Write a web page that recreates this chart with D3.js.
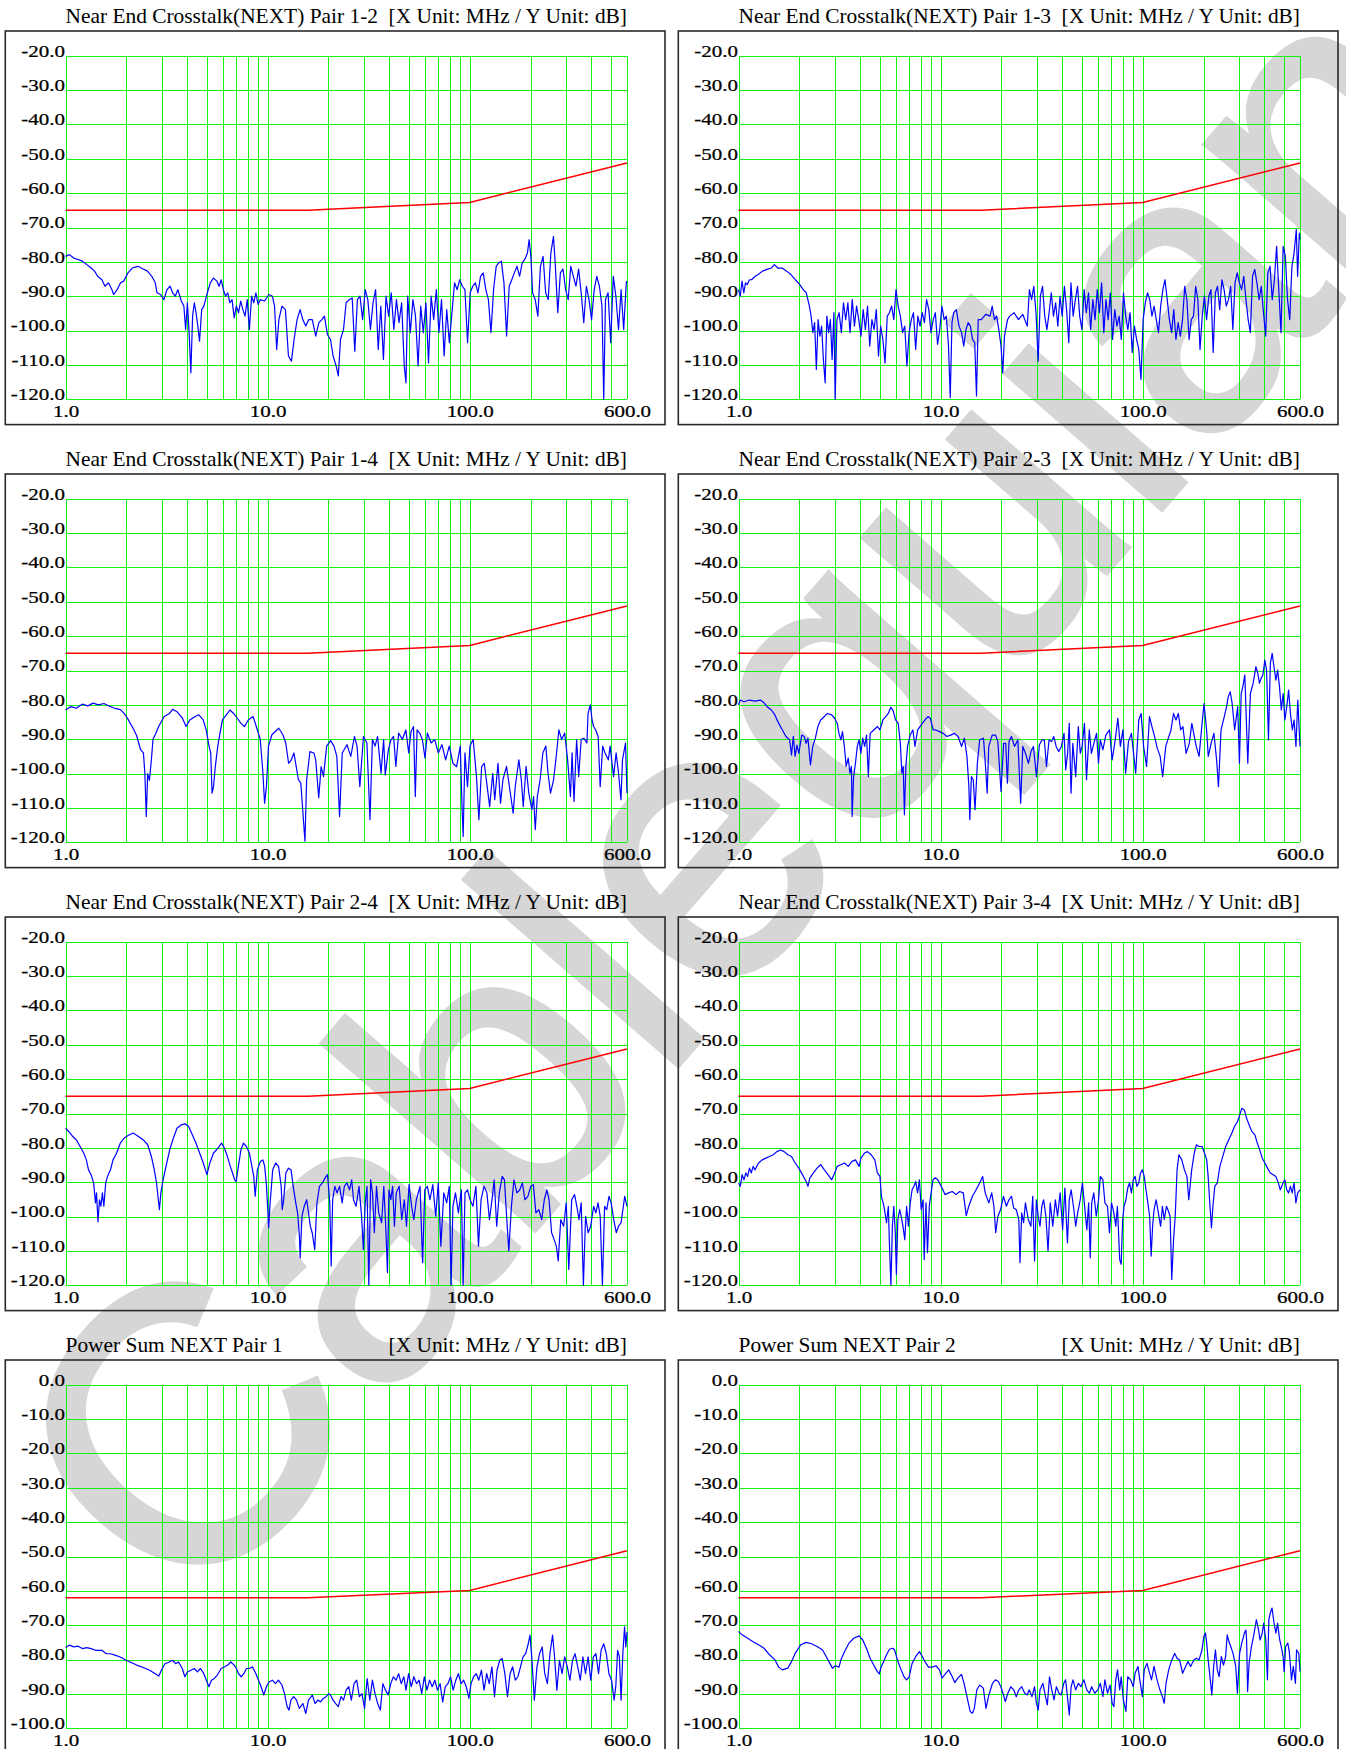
<!DOCTYPE html>
<html>
<head>
<meta charset="utf-8">
<script src="https://cdn.jsdelivr.net/npm/d3@7"></script>
<style>
  body { margin: 0; background: #fff; }
  svg { display: block; }
  text { font-family: "Liberation Serif", "Times New Roman", Times, serif; fill: #000; }
</style>
</head>
<body>
<div id="chart"></div>
<script>
// Axis definitions
const xGridFreqs = [1, 2, 3, 4, 5, 6, 7, 8, 9, 10, 20, 30, 40, 50, 60, 70, 80, 90, 100, 200, 300, 400, 500, 600];
const xTickFreqs = [1, 10, 100, 600];
const yTicksNext = [-20, -30, -40, -50, -60, -70, -80, -90, -100, -110, -120];
const yTicksPsum = [0, -10, -20, -30, -40, -50, -60, -70, -80, -90, -100];

const panelTitles = [
    "Near End Crosstalk(NEXT) Pair 1-2", "Near End Crosstalk(NEXT) Pair 1-3",
    "Near End Crosstalk(NEXT) Pair 1-4", "Near End Crosstalk(NEXT) Pair 2-3",
    "Near End Crosstalk(NEXT) Pair 2-4", "Near End Crosstalk(NEXT) Pair 3-4",
    "Power Sum NEXT Pair 1", "Power Sum NEXT Pair 2"
];
const unitLabel = "[X Unit: MHz / Y Unit: dB]";
const watermarkText = "Cablequian";

// Limit lines (red)
const limitFreqs = [1, 15.8, 100, 600];
const limitNext = [-65, -65, -62.7, -51.2];
const limitPsum = [-62, -62, -59.9, -48.3];

// Measured traces (blue): [MHz, dB]
const next12 = [[1.00,-78.4],[1.045,-77.9],[1.098,-78.9],[1.154,-79.3],[1.212,-79.8],[1.274,-80.8],[1.339,-81.8],[1.393,-82.7],[1.442,-84.2],[1.514,-85.2],[1.568,-87.1],[1.631,-86.1],[1.697,-88.1],[1.731,-89.5],[1.80,-88.1],[1.873,-86.1],[1.94,-85.6],[2.037,-83.2],[2.141,-81.8],[2.282,-81.3],[2.422,-82.1],[2.545,-82.7],[2.673,-84.2],[2.781,-86.1],[2.837,-89.0],[2.951,-89.5],[3.069,-91.0],[3.178,-88.1],[3.29,-87.1],[3.389,-89.0],[3.491,-90.0],[3.596,-88.1],[3.741,-91.4],[3.853,-92.9],[3.93,-99.7],[4.009,-91.9],[4.089,-100.6],[4.171,-112.3],[4.254,-95.8],[4.339,-91.9],[4.425,-94.8],[4.514,-98.7],[4.604,-103.1],[4.719,-93.9],[4.836,-92.9],[5.031,-89.0],[5.208,-86.1],[5.391,-84.7],[5.61,-85.6],[5.75,-87.1],[5.895,-85.2],[6.041,-88.1],[6.193,-90.0],[6.347,-89.0],[6.506,-91.9],[6.668,-91.0],[6.835,-96.3],[7.006,-92.9],[7.181,-94.8],[7.362,-91.4],[7.545,-93.9],[7.734,-95.8],[7.927,-91.0],[8.126,-99.7],[8.329,-90.0],[8.537,-91.9],[8.75,-89.0],[8.969,-92.4],[9.194,-91.0],[9.66,-91.4],[10.15,-89.5],[10.56,-90.0],[10.82,-92.9],[11.09,-105.5],[11.37,-96.8],[11.77,-92.9],[12.25,-93.9],[12.68,-107.4],[13.12,-108.9],[13.52,-102.6],[13.99,-96.8],[14.49,-93.9],[14.92,-96.8],[15.45,-98.7],[15.99,-96.8],[16.63,-96.8],[17.31,-101.6],[17.92,-97.7],[18.55,-96.8],[19.10,-95.8],[19.78,-101.2],[20.47,-102.6],[21.09,-107.4],[21.83,-110.3],[22.38,-113.2],[22.94,-102.6],[23.74,-99.7],[24.46,-91.9],[25.32,-91.0],[26.21,-90.5],[27.00,-106.0],[27.81,-91.0],[28.65,-90.0],[29.51,-96.8],[30.40,-88.1],[31.31,-91.0],[32.26,-99.7],[33.23,-91.9],[34.23,-88.1],[35.26,-105.5],[36.32,-92.9],[37.41,-108.4],[38.54,-90.0],[39.70,-95.8],[40.89,-89.0],[42.12,-99.7],[43.39,-91.0],[44.69,-97.7],[46.04,-91.9],[47.42,-110.3],[48.37,-115.2],[49.33,-90.0],[50.82,-100.6],[52.35,-91.0],[53.92,-95.8],[55.54,-110.3],[57.21,-92.9],[58.93,-100.6],[60.71,-91.9],[62.53,-109.4],[64.42,-90.0],[66.35,-96.8],[68.35,-88.1],[70.40,-100.6],[72.52,-91.0],[74.70,-107.4],[76.96,-93.9],[79.27,-103.5],[81.66,-94.8],[84.12,-86.1],[86.66,-88.1],[89.25,-85.2],[91.94,-87.1],[94.71,-88.1],[97.57,-103.5],[100.5,-89.0],[103.5,-87.1],[106.6,-86.1],[109.9,-89.0],[113.1,-84.2],[116.6,-83.2],[120.1,-88.1],[123.7,-91.0],[127.4,-100.6],[131.2,-88.1],[135.2,-81.3],[139.2,-80.3],[143.4,-79.8],[147.7,-86.1],[152.2,-101.6],[156.8,-87.1],[161.5,-85.2],[166.3,-83.2],[171.4,-81.3],[176.5,-84.2],[181.8,-80.3],[187.3,-79.3],[193.0,-77.4],[196.8,-73.5],[200.7,-78.4],[204.7,-89.0],[210.9,-91.0],[217.3,-95.8],[223.8,-81.3],[230.6,-78.4],[237.5,-89.0],[244.6,-91.0],[252.0,-77.4],[259.6,-72.6],[264.8,-80.3],[272.7,-94.8],[280.9,-83.2],[289.3,-82.1],[298.1,-88.1],[307.0,-91.0],[316.2,-81.3],[325.7,-84.2],[335.5,-87.1],[345.6,-82.1],[356.0,-89.0],[366.7,-97.7],[377.7,-87.1],[389.1,-91.0],[400.8,-96.8],[412.9,-88.1],[425.3,-84.2],[438.1,-87.1],[451.2,-92.9],[460.3,-120.0],[469.5,-91.0],[483.6,-89.0],[498.2,-103.5],[513.2,-84.2],[528.6,-90.0],[544.6,-99.7],[561.0,-88.1],[577.8,-99.7],[595.2,-86.1],[600,-85.6]];

const next13 = [[1.00,-88.1],[1.020,-90.0],[1.041,-85.6],[1.062,-89.0],[1.083,-86.1],[1.105,-86.6],[1.133,-85.2],[1.161,-85.2],[1.209,-84.2],[1.252,-83.7],[1.315,-82.7],[1.383,-82.2],[1.453,-81.8],[1.505,-80.8],[1.566,-81.8],[1.646,-81.8],[1.730,-82.7],[1.818,-83.7],[1.911,-85.2],[2.009,-86.6],[2.091,-88.1],[2.165,-89.0],[2.242,-92.9],[2.287,-95.8],[2.333,-100.6],[2.380,-97.7],[2.428,-111.3],[2.477,-96.8],[2.527,-101.6],[2.578,-98.7],[2.630,-108.4],[2.683,-115.2],[2.736,-95.8],[2.792,-100.6],[2.848,-96.8],[2.905,-108.4],[2.964,-94.8],[3.008,-120.0],[3.069,-96.8],[3.147,-94.8],[3.227,-100.6],[3.307,-91.9],[3.391,-96.8],[3.477,-91.9],[3.564,-100.6],[3.654,-91.0],[3.746,-98.7],[3.840,-92.9],[3.937,-96.8],[4.037,-101.6],[4.139,-93.9],[4.243,-99.7],[4.350,-92.9],[4.461,-104.5],[4.573,-96.8],[4.688,-99.7],[4.806,-93.9],[4.928,-107.4],[5.052,-98.7],[5.180,-102.6],[5.310,-109.4],[5.444,-95.8],[5.582,-94.8],[5.722,-92.9],[5.867,-96.8],[6.015,-88.1],[6.166,-92.9],[6.322,-95.8],[6.481,-100.6],[6.645,-98.7],[6.813,-110.3],[6.985,-100.6],[7.161,-96.8],[7.342,-94.8],[7.527,-105.5],[7.717,-95.8],[7.912,-98.7],[8.112,-94.8],[8.316,-97.7],[8.526,-91.0],[8.741,-93.9],[8.962,-100.6],[9.189,-96.8],[9.420,-94.8],[9.656,-104.0],[9.901,-99.7],[10.15,-92.9],[10.41,-96.8],[10.67,-95.8],[10.94,-104.5],[11.16,-119.5],[11.38,-97.7],[11.61,-94.8],[11.96,-93.9],[12.33,-98.7],[12.70,-100.6],[13.02,-104.5],[13.35,-99.7],[13.69,-97.7],[14.04,-98.7],[14.39,-102.6],[14.75,-103.5],[15.05,-119.0],[15.35,-96.8],[15.90,-96.8],[16.71,-95.3],[17.56,-95.8],[18.00,-92.9],[18.46,-96.8],[18.93,-95.8],[19.41,-99.7],[19.90,-104.5],[20.30,-112.3],[20.70,-101.6],[21.44,-96.8],[21.98,-95.8],[23.10,-94.8],[24.28,-96.8],[25.52,-95.3],[26.83,-98.7],[27.50,-88.1],[28.20,-91.0],[28.91,-87.1],[29.65,-94.8],[30.39,-108.9],[31.16,-90.0],[31.94,-87.1],[32.75,-95.8],[33.57,-99.7],[34.42,-94.8],[35.28,-89.0],[36.17,-95.8],[37.09,-91.9],[38.02,-98.7],[38.98,-90.0],[39.96,-95.8],[40.98,-87.1],[42.01,-93.9],[43.07,-103.5],[44.16,-86.1],[45.27,-95.8],[46.42,-91.0],[47.59,-87.1],[48.79,-95.8],[50.02,-99.7],[51.29,-88.1],[52.58,-94.8],[53.91,-89.0],[55.26,-99.7],[56.66,-91.0],[58.09,-96.8],[59.56,-88.1],[61.06,-94.8],[62.60,-86.1],[64.18,-100.6],[65.80,-91.0],[67.45,-96.8],[69.16,-89.0],[70.90,-102.6],[72.70,-93.9],[74.53,-98.7],[76.41,-95.8],[78.34,-102.6],[80.32,-89.0],[82.35,-95.8],[84.42,-99.7],[86.55,-94.8],[88.74,-106.4],[90.98,-98.7],[93.27,-102.6],[95.61,-105.5],[98.02,-114.2],[100.5,-96.8],[103.0,-91.9],[105.6,-89.0],[108.3,-91.0],[111.1,-95.8],[113.8,-92.9],[116.7,-96.8],[119.7,-100.6],[122.7,-92.9],[125.8,-88.1],[128.9,-85.2],[132.2,-91.0],[135.5,-96.8],[139.0,-100.6],[142.4,-93.9],[146.0,-102.6],[149.7,-97.7],[153.5,-101.6],[157.4,-96.8],[161.4,-87.1],[165.4,-91.0],[169.6,-102.6],[173.9,-96.8],[178.3,-95.8],[182.8,-87.1],[187.4,-91.0],[192.1,-105.5],[197.0,-95.8],[202.0,-90.0],[207.0,-96.8],[212.3,-90.0],[217.6,-88.1],[223.1,-106.4],[228.8,-89.0],[234.5,-87.1],[240.4,-93.9],[246.5,-85.2],[252.7,-88.1],[259.1,-92.9],[265.6,-91.0],[272.3,-87.1],[279.2,-99.7],[286.2,-86.1],[293.4,-83.2],[300.8,-86.1],[308.4,-88.1],[316.2,-84.2],[324.2,-91.0],[332.4,-96.8],[340.8,-100.6],[349.4,-84.2],[358.2,-82.2],[367.2,-86.1],[376.5,-91.0],[386.0,-87.1],[395.8,-94.8],[405.8,-101.6],[415.9,-83.2],[426.5,-81.3],[437.2,-91.0],[448.2,-85.2],[459.6,-75.5],[471.2,-88.1],[483.1,-100.6],[495.3,-75.5],[507.8,-78.4],[520.6,-91.0],[533.8,-96.8],[547.2,-81.3],[561.0,-77.4],[575.2,-70.6],[583.9,-84.2],[595.6,-71.6],[600,-73.5]];

const next14 = [[1.00,-81.5],[1.065,-80.5],[1.13,-81.0],[1.21,-79.8],[1.29,-80.3],[1.37,-79.5],[1.455,-80.0],[1.55,-79.6],[1.65,-80.4],[1.754,-81.0],[1.87,-81.4],[1.95,-82.5],[2.03,-84.0],[2.16,-86.8],[2.25,-89.0],[2.35,-93.0],[2.43,-94.0],[2.47,-100.0],[2.51,-112.5],[2.55,-100.0],[2.60,-102.0],[2.66,-96.0],[2.71,-90.0],[2.79,-88.5],[2.89,-86.3],[3.08,-83.4],[3.27,-82.5],[3.39,-81.3],[3.56,-82.0],[3.79,-83.9],[3.95,-86.3],[4.12,-84.4],[4.38,-83.4],[4.57,-82.9],[4.80,-84.4],[4.97,-87.3],[5.13,-92.0],[5.23,-94.0],[5.31,-105.7],[5.40,-103.8],[5.51,-98.0],[5.67,-92.0],[5.81,-88.3],[5.98,-84.4],[6.25,-82.9],[6.51,-81.5],[6.79,-82.5],[7.08,-83.9],[7.38,-85.4],[7.69,-86.3],[8.02,-84.4],[8.47,-83.4],[8.90,-87.3],[9.19,-90.0],[9.46,-99.0],[9.66,-108.6],[9.87,-103.8],[10.1,-92.0],[10.5,-88.7],[11.35,-86.8],[11.9,-88.7],[12.3,-91.1],[12.7,-97.0],[13.1,-96.0],[13.5,-94.0],[14.2,-101.8],[14.6,-102.8],[15.3,-119.7],[15.6,-101.8],[16.2,-93.6],[16.95,-94.0],[17.3,-96.0],[17.9,-107.0],[18.4,-98.0],[18.9,-100.9],[19.6,-92.0],[20.5,-90.4],[21.3,-92.0],[22.0,-95.0],[22.7,-112.5],[23.4,-94.0],[24.7,-91.6],[25.8,-95.0],[26.9,-89.2],[27.7,-92.0],[28.6,-103.8],[29.8,-89.2],[31.0,-91.1],[32.1,-113.4],[33.0,-90.1],[34.0,-92.0],[35.0,-89.2],[36.4,-99.9],[37.5,-90.1],[38.2,-100.4],[39.6,-93.0],[40.8,-90.1],[42.0,-89.2],[43.1,-97.9],[44.5,-88.2],[46.4,-90.1],[48.3,-87.3],[49.9,-94.0],[51.2,-87.8],[52.7,-86.3],[53.8,-106.7],[54.9,-87.3],[56.5,-88.2],[58.3,-90.1],[60.1,-95.5],[61.7,-88.2],[64.4,-91.1],[67.1,-90.1],[69.9,-94.0],[72.9,-91.6],[76.0,-96.0],[79.2,-92.0],[82.6,-97.0],[86.1,-98.0],[89.8,-92.0],[91.6,-109.6],[92.8,-118.3],[94.7,-94.0],[97.5,-103.8],[100.3,-92.0],[104,-90.1],[108,-100.9],[111,-113.4],[114.5,-98.0],[118,-97.0],[122,-103.8],[125.5,-109.6],[130,-99.9],[133,-107.6],[138,-97.0],[142,-108.6],[146,-101.8],[152,-97.9],[158,-104.7],[164,-111.5],[168,-103.8],[175,-96.0],[180,-101.8],[184,-109.6],[190,-97.9],[196,-105.7],[203,-110.5],[207,-106.7],[211,-116.3],[216,-106.7],[223,-101.8],[230,-94.0],[238,-92.0],[244,-99.9],[251,-105.7],[260,-101.8],[269,-94.0],[276,-87.3],[285,-90.1],[295,-88.2],[305,-96.0],[315,-106.7],[321,-94.0],[328,-108.1],[338,-90.1],[346,-100.9],[356,-90.1],[367,-89.7],[380,-91.1],[385,-82.5],[395,-80.0],[403,-84.4],[410,-86.3],[420,-87.3],[432,-89.2],[442,-103.8],[455,-92.0],[467,-94.0],[485,-96.0],[495,-92.0],[515,-100.9],[530,-94.0],[545,-99.9],[560,-107.6],[570,-96.0],[590,-91.1],[600,-105.7]];

const next23 = [[1.00,-80.0],[1.02,-78.6],[1.064,-79.1],[1.133,-78.6],[1.206,-78.9],[1.284,-78.6],[1.338,-79.4],[1.395,-80.7],[1.455,-81.5],[1.516,-83.0],[1.581,-85.4],[1.648,-87.3],[1.718,-89.2],[1.791,-90.2],[1.829,-94.6],[1.867,-89.2],[1.906,-95.0],[1.946,-91.7],[1.988,-94.1],[2.055,-88.8],[2.115,-89.2],[2.16,-91.2],[2.205,-89.7],[2.27,-97.5],[2.33,-92.1],[2.40,-89.7],[2.47,-86.3],[2.55,-84.4],[2.66,-83.4],[2.75,-82.5],[2.89,-82.9],[2.99,-83.9],[3.08,-85.4],[3.14,-88.3],[3.21,-90.2],[3.27,-87.8],[3.34,-92.1],[3.41,-97.9],[3.49,-95.5],[3.56,-99.9],[3.62,-97.9],[3.65,-112.5],[3.71,-100.9],[3.79,-97.0],[3.87,-92.1],[3.95,-90.2],[4.03,-94.1],[4.12,-89.7],[4.21,-92.1],[4.30,-88.8],[4.39,-100.9],[4.48,-88.3],[4.67,-87.3],[4.87,-86.3],[5.01,-87.3],[5.18,-84.4],[5.35,-83.4],[5.51,-82.5],[5.67,-80.7],[5.82,-81.7],[5.99,-84.4],[6.17,-85.4],[6.32,-91.2],[6.43,-99.9],[6.53,-97.9],[6.62,-112.0],[6.73,-97.9],[6.86,-92.1],[7.07,-88.8],[7.29,-87.3],[7.47,-92.1],[7.70,-87.3],[8.02,-85.8],[8.37,-84.4],[8.65,-83.4],[8.89,-83.9],[9.19,-87.3],[9.47,-87.3],[9.87,-87.8],[10.3,-88.3],[10.75,-89.2],[11.2,-88.8],[11.7,-88.3],[12.2,-89.2],[12.7,-92.1],[13.1,-89.7],[13.5,-95.0],[13.8,-103.8],[13.95,-113.4],[14.2,-100.9],[14.5,-101.8],[14.8,-110.5],[15.2,-97.0],[15.6,-90.2],[16.3,-89.7],[16.6,-96.0],[17.0,-105.7],[17.3,-92.1],[18.0,-88.8],[18.7,-88.8],[19.2,-90.7],[19.9,-105.2],[20.5,-91.2],[21.0,-91.2],[21.4,-102.8],[21.8,-90.7],[22.4,-89.2],[23.2,-92.1],[24.1,-90.2],[24.9,-108.6],[25.5,-92.1],[26.3,-94.1],[27.2,-97.0],[28.0,-93.6],[28.8,-92.1],[29.8,-100.9],[30.8,-91.7],[31.7,-90.2],[32.6,-90.2],[33.4,-97.9],[34.4,-90.2],[35.4,-90.7],[36.3,-89.2],[37.3,-92.1],[38.4,-93.6],[39.6,-92.1],[40.8,-88.3],[41.6,-98.9],[42.5,-94.1],[43.3,-85.4],[44.2,-105.7],[45.1,-91.2],[46.6,-100.9],[48.0,-86.3],[49.1,-94.1],[50.1,-92.1],[51.5,-85.4],[52.7,-101.8],[54.4,-87.3],[55.7,-94.1],[57.9,-90.2],[59.1,-88.3],[60.4,-97.0],[61.7,-90.2],[63.5,-93.1],[65.7,-88.8],[68.5,-87.3],[70.6,-96.0],[73.1,-90.2],[75.3,-83.9],[77.5,-92.1],[79.8,-87.3],[82.3,-99.9],[85.0,-90.7],[87.9,-88.3],[90.4,-95.0],[92.3,-99.9],[95.6,-84.4],[98.2,-82.5],[101,-92.1],[104.5,-97.9],[108,-83.4],[111,-86.3],[114,-88.8],[118,-92.6],[122,-95.0],[125.5,-100.9],[130,-92.1],[133,-90.2],[138,-87.3],[142,-82.5],[146,-84.4],[150,-82.5],[154,-87.3],[158,-86.3],[164,-94.1],[170,-91.2],[175,-85.4],[180,-89.2],[184,-92.1],[190,-95.0],[196,-86.3],[201,-79.6],[207,-87.3],[211,-95.0],[218,-91.2],[225,-88.3],[232,-96.0],[237,-103.8],[244,-87.3],[251,-84.4],[260,-80.5],[265,-77.6],[271,-76.2],[277,-79.6],[285,-87.3],[295,-80.5],[301,-97.0],[307,-76.7],[313,-74.7],[320,-71.3],[331,-97.0],[341,-76.7],[352,-73.7],[363,-68.9],[371,-70.8],[378,-73.7],[385,-72.3],[393,-71.3],[402,-67.0],[410,-69.9],[419,-90.2],[428,-67.9],[437,-65.0],[446,-68.9],[456,-72.8],[465,-69.9],[475,-74.7],[485,-81.5],[495,-76.7],[505,-84.4],[516,-80.5],[527,-75.7],[538,-82.5],[550,-87.3],[561,-84.4],[573,-92.1],[585,-78.6],[600,-92.1]];

const next24 = [[1.00,-74.3],[1.04,-75.3],[1.087,-76.7],[1.133,-77.7],[1.181,-79.6],[1.23,-81.5],[1.268,-83.5],[1.30,-86.4],[1.338,-87.8],[1.378,-90.2],[1.407,-96.0],[1.424,-93.1],[1.448,-101.5],[1.473,-95.1],[1.497,-97.0],[1.522,-93.1],[1.548,-97.0],[1.581,-90.2],[1.614,-88.3],[1.669,-86.4],[1.718,-83.5],[1.791,-81.5],[1.868,-78.6],[1.947,-77.2],[2.03,-76.5],[2.161,-75.7],[2.30,-76.7],[2.428,-77.7],[2.551,-79.1],[2.66,-82.5],[2.75,-86.4],[2.82,-90.2],[2.867,-94.1],[2.915,-98.0],[2.964,-93.1],[3.039,-89.3],[3.143,-85.4],[3.277,-80.6],[3.416,-77.2],[3.561,-74.3],[3.744,-73.3],[3.903,-73.0],[4.068,-73.8],[4.241,-76.2],[4.421,-78.6],[4.609,-81.5],[4.805,-84.4],[4.927,-86.4],[5.01,-87.8],[5.179,-84.4],[5.40,-81.5],[5.676,-80.1],[5.917,-78.6],[6.118,-80.1],[6.325,-82.5],[6.539,-85.4],[6.704,-87.3],[6.874,-89.3],[6.989,-89.8],[7.166,-85.4],[7.378,-80.6],[7.596,-78.6],[7.855,-79.6],[8.121,-81.5],[8.361,-85.4],[8.538,-88.3],[8.681,-94.1],[8.901,-86.4],[9.202,-84.0],[9.475,-83.5],[9.673,-85.4],[9.875,-91.2],[9.999,-97.0],[10.12,-103.3],[10.29,-96.0],[10.60,-86.4],[10.96,-84.4],[11.33,-85.4],[11.67,-91.2],[11.81,-98.0],[12.01,-95.1],[12.31,-87.3],[12.68,-85.9],[13.06,-86.4],[13.39,-91.2],[13.78,-96.0],[14.07,-98.9],[14.37,-105.7],[14.49,-112.0],[14.79,-99.9],[15.17,-97.0],[15.61,-95.1],[16.27,-102.8],[16.62,-104.7],[17.11,-109.6],[17.54,-96.0],[18.06,-91.2],[18.67,-90.2],[19.47,-88.3],[19.79,-87.8],[20.30,-96.0],[20.63,-114.4],[20.98,-95.1],[21.51,-91.2],[22.06,-93.1],[22.71,-91.2],[23.38,-96.0],[23.97,-91.2],[24.69,-90.2],[25.42,-92.2],[26.06,-89.3],[26.61,-95.1],[27.40,-97.0],[28.33,-91.2],[29.17,-99.9],[29.78,-109.6],[30.41,-96.0],[31.03,-91.2],[31.68,-120.0],[32.35,-89.3],[33.03,-93.1],[33.73,-104.7],[34.58,-91.2],[35.46,-98.9],[36.66,-101.8],[37.58,-91.2],[38.53,-104.7],[39.18,-116.3],[39.84,-92.2],[40.68,-95.1],[41.53,-91.2],[42.41,-102.8],[43.30,-93.1],[44.77,-91.2],[46.09,-100.9],[47.46,-95.1],[48.66,-102.8],[50.10,-90.7],[51.58,-97.0],[52.89,-100.9],[54.45,-95.1],[56.77,-91.2],[58.45,-113.4],[59.93,-92.2],[61.69,-91.2],[63.52,-95.1],[65.66,-90.7],[67.89,-99.9],[69.90,-90.2],[71.97,-108.6],[74.41,-93.1],[76.93,-96.0],[79.21,-91.2],[80.88,-120.0],[82.58,-97.0],[85.02,-93.1],[87.91,-98.9],[90.89,-92.2],[92.79,-120.0],[94.75,-93.1],[97.54,-92.2],[100.4,-95.1],[103.8,-97.0],[107.3,-91.2],[110.5,-108.6],[113.8,-95.1],[117.7,-91.2],[121.6,-93.1],[125.2,-100.9],[128.9,-95.1],[132.1,-89.3],[136.0,-102.8],[140.1,-93.1],[144.8,-88.3],[148.5,-89.3],[152.2,-99.9],[156.1,-110.0],[160.8,-97.0],[165.5,-89.3],[171.1,-93.1],[176.9,-92.2],[182.2,-90.2],[187.5,-95.1],[193.9,-94.1],[200.5,-91.2],[206.4,-90.7],[212.5,-98.9],[219.7,-98.0],[227.2,-100.9],[233.9,-95.1],[240.8,-92.2],[246.9,-95.1],[254.2,-104.7],[261.7,-106.7],[268.3,-108.6],[274.0,-112.9],[282.1,-100.9],[291.6,-102.8],[300.2,-96.0],[309.1,-115.4],[319.5,-95.1],[330.3,-93.6],[338.7,-97.0],[347.3,-100.9],[356.1,-96.0],[365.1,-120.0],[374.3,-99.9],[385.4,-104.7],[396.8,-102.8],[410.2,-97.0],[420.6,-98.9],[431.3,-96.0],[442.2,-99.9],[453.4,-120.0],[464.9,-97.0],[476.6,-98.0],[488.7,-94.1],[501.0,-96.0],[515.8,-100.9],[531.1,-104.7],[544.5,-102.8],[560.6,-101.8],[572.5,-98.0],[584.5,-94.1],[600,-97.0]];

const next34 = [[1.00,-90.2],[1.021,-91.2],[1.042,-87.8],[1.064,-89.3],[1.087,-87.3],[1.11,-88.3],[1.133,-85.9],[1.157,-87.3],[1.181,-85.4],[1.206,-86.4],[1.257,-84.4],[1.31,-83.5],[1.366,-83.0],[1.424,-82.5],[1.485,-82.0],[1.548,-81.1],[1.614,-80.6],[1.683,-81.1],[1.754,-82.0],[1.829,-82.5],[1.907,-84.4],[1.988,-85.9],[2.072,-87.8],[2.161,-89.8],[2.206,-91.2],[2.253,-88.8],[2.348,-87.3],[2.448,-85.9],[2.551,-84.9],[2.66,-86.4],[2.774,-87.8],[2.892,-89.3],[2.99,-87.3],[3.078,-85.4],[3.209,-84.9],[3.345,-84.4],[3.488,-85.4],[3.636,-84.0],[3.791,-83.5],[3.951,-85.4],[4.034,-83.0],[4.206,-81.5],[4.348,-81.1],[4.533,-82.0],[4.726,-83.5],[4.866,-87.3],[5.01,-88.3],[5.095,-94.1],[5.222,-96.5],[5.31,-98.9],[5.40,-101.8],[5.513,-97.0],[5.586,-108.6],[5.676,-120.0],[5.772,-102.8],[5.869,-97.0],[5.967,-104.7],[6.042,-116.8],[6.143,-100.9],[6.272,-98.0],[6.377,-99.9],[6.511,-102.8],[6.648,-106.7],[6.789,-97.0],[6.931,-102.8],[7.077,-96.0],[7.226,-92.2],[7.378,-91.2],[7.534,-89.8],[7.692,-93.1],[7.855,-89.3],[8.02,-98.0],[8.189,-95.1],[8.29,-112.5],[8.466,-96.0],[8.608,-110.5],[8.79,-97.0],[8.975,-93.1],[9.163,-89.3],[9.396,-88.7],[9.673,-89.3],[10.08,-91.2],[10.51,-93.6],[10.96,-93.1],[11.42,-92.7],[11.91,-93.6],[12.42,-92.7],[12.95,-93.1],[13.39,-99.7],[13.78,-97.0],[14.37,-94.1],[14.98,-92.2],[15.61,-90.2],[16.14,-88.3],[16.62,-93.1],[17.32,-96.0],[17.90,-93.1],[18.35,-97.0],[18.73,-104.7],[19.2,-99.9],[19.79,-98.0],[20.46,-94.1],[21.16,-97.0],[21.78,-95.1],[22.43,-94.1],[22.99,-97.5],[23.68,-98.0],[24.38,-100.9],[24.69,-113.4],[25.2,-98.9],[25.74,-101.8],[26.28,-96.0],[27.17,-100.9],[27.98,-102.8],[28.56,-94.1],[29.17,-112.9],[29.78,-95.1],[30.41,-99.9],[31.03,-102.8],[31.68,-97.0],[32.35,-95.1],[33.18,-99.9],[34.0,-110.0],[34.87,-96.0],[35.90,-102.8],[36.96,-95.1],[37.9,-99.9],[39.02,-93.1],[40.15,-103.8],[41.19,-91.7],[42.41,-107.6],[43.3,-95.1],[44.24,-92.2],[45.52,-97.5],[46.6,-102.8],[47.67,-98.9],[49.07,-95.1],[50.31,-90.2],[51.58,-97.0],[52.89,-103.8],[54.0,-96.0],[55.0,-112.0],[55.9,-96.0],[57.25,-93.1],[58.9,-99.9],[60.43,-95.1],[61.69,-88.3],[63.52,-89.3],[65.0,-96.0],[66.94,-97.0],[68.46,-104.7],[70.1,-96.0],[71.97,-98.9],[73.57,-102.8],[74.94,-97.0],[76.93,-112.5],[78.23,-113.9],[79.56,-100.9],[80.88,-97.0],[82.58,-95.1],[84.32,-91.7],[86.09,-90.2],[87.91,-93.1],[89.76,-89.3],[91.65,-88.3],[93.57,-91.2],[95.55,-90.2],[97.54,-87.3],[99.6,-86.4],[101.7,-88.3],[103.8,-92.2],[106.0,-96.0],[108.2,-99.9],[110.1,-111.5],[111.9,-102.8],[113.8,-98.0],[116.6,-95.1],[119.5,-98.9],[122.6,-102.8],[125.2,-97.0],[127.8,-100.9],[131.0,-97.0],[133.3,-98.0],[136.6,-99.9],[139.2,-118.3],[142.1,-106.7],[144.8,-99.9],[147.9,-86.4],[151.0,-82.0],[156.1,-83.5],[160.8,-86.4],[165.5,-88.3],[169.0,-95.1],[174.7,-86.4],[179.9,-81.5],[184.4,-79.1],[189.9,-79.6],[196.5,-79.6],[202.1,-81.5],[207.3,-83.5],[210.7,-88.3],[215.2,-97.0],[218.8,-103.3],[222.5,-97.0],[227.2,-91.2],[233.9,-90.2],[240.8,-85.4],[248.9,-82.5],[257.3,-79.6],[266.1,-77.7],[276.2,-75.7],[284.4,-73.8],[294.1,-72.4],[302.1,-70.4],[309.1,-68.5],[318.4,-69.0],[326.6,-71.4],[335.9,-73.3],[347.3,-75.3],[358.9,-76.2],[368.9,-78.6],[379.2,-80.6],[390.3,-83.0],[402.3,-84.4],[414.0,-85.9],[427.7,-87.3],[442.2,-87.8],[455.7,-88.3],[468.7,-90.2],[479.3,-92.2],[494.8,-90.2],[505.2,-89.3],[515.8,-92.2],[526.7,-93.1],[537.8,-91.2],[549.1,-93.1],[560.6,-90.2],[572.5,-96.0],[584.5,-93.1],[600,-92.2]];

const psum1 = [[1.00,-76.5],[1.045,-75.8],[1.098,-76.3],[1.154,-76.1],[1.212,-76.8],[1.274,-76.5],[1.339,-76.8],[1.406,-77.3],[1.514,-77.3],[1.592,-78.3],[1.672,-78.3],[1.757,-78.7],[1.892,-79.4],[1.987,-80.2],[2.088,-80.7],[2.249,-81.6],[2.422,-82.3],[2.608,-83.1],[2.781,-84.1],[2.897,-84.8],[2.982,-83.1],[3.104,-81.2],[3.263,-80.7],[3.389,-80.2],[3.506,-81.2],[3.624,-80.7],[3.782,-82.6],[3.894,-85.0],[4.009,-83.6],[4.171,-83.1],[4.339,-82.6],[4.496,-83.6],[4.651,-82.6],[4.836,-84.1],[4.977,-86.0],[5.121,-87.9],[5.274,-86.0],[5.453,-85.5],[5.639,-84.5],[5.895,-82.6],[6.131,-82.1],[6.356,-81.6],[6.570,-80.7],[6.835,-81.6],[7.006,-82.6],[7.181,-84.1],[7.399,-85.0],[7.624,-84.1],[7.855,-82.6],[8.126,-82.6],[8.412,-82.1],[8.75,-84.1],[9.012,-86.0],[9.286,-87.9],[9.568,-90.3],[9.859,-87.9],[10.15,-86.5],[10.56,-86.0],[10.94,-87.0],[11.31,-86.0],[11.77,-87.4],[12.12,-89.9],[12.49,-93.7],[12.76,-94.7],[13.04,-91.8],[13.46,-90.8],[13.9,-91.8],[14.34,-94.2],[14.96,-92.8],[15.44,-95.7],[15.93,-91.8],[16.44,-90.8],[16.63,-90.3],[17.18,-92.8],[17.71,-91.8],[18.28,-92.3],[18.86,-91.3],[19.46,-90.8],[20.08,-89.9],[20.47,-90.3],[21.09,-91.8],[21.72,-92.8],[22.38,-93.7],[23.08,-90.8],[23.74,-91.8],[24.46,-88.9],[25.2,-87.9],[25.96,-91.8],[26.78,-87.0],[27.59,-86.0],[28.43,-90.8],[29.29,-89.9],[30.17,-94.2],[31.09,-85.5],[32.03,-91.8],[33.0,-86.0],[34.0,-89.9],[35.04,-92.8],[36.1,-94.7],[37.19,-87.0],[38.32,-88.9],[39.48,-90.3],[40.68,-87.0],[41.91,-85.0],[43.18,-86.0],[44.49,-84.1],[45.83,-87.0],[47.22,-85.0],[48.37,-88.9],[49.84,-84.1],[51.35,-87.9],[52.91,-85.0],[54.52,-87.0],[56.17,-86.0],[57.87,-89.9],[59.63,-85.0],[61.44,-88.9],[63.30,-86.0],[65.22,-87.9],[67.20,-86.0],[69.24,-88.9],[71.33,-87.0],[73.49,-92.3],[75.72,-87.9],[78.02,-87.0],[80.37,-85.0],[82.81,-88.9],[85.32,-86.0],[87.90,-84.1],[90.57,-87.0],[93.31,-86.0],[96.13,-87.9],[99.05,-91.3],[101.5,-87.0],[104.5,-85.0],[107.7,-84.1],[110.9,-86.0],[114.3,-83.1],[117.7,-88.9],[121.3,-84.1],[124.9,-87.0],[128.7,-82.1],[132.6,-90.8],[136.5,-83.1],[140.7,-80.2],[144.8,-79.7],[149.2,-84.1],[153.7,-90.8],[158.4,-84.1],[163.1,-82.1],[168.0,-86.0],[173.1,-85.0],[178.3,-82.1],[183.6,-79.2],[189.1,-78.3],[194.8,-75.4],[198.7,-72.9],[202.7,-79.2],[208.8,-91.8],[215.1,-82.1],[221.6,-78.3],[228.3,-76.3],[235.1,-84.1],[242.2,-87.0],[249.5,-78.3],[257.0,-72.9],[262.1,-78.3],[270.0,-88.9],[278.0,-80.2],[286.4,-84.1],[295.0,-79.2],[303.9,-82.1],[313.1,-86.0],[322.5,-80.2],[332.2,-78.3],[342.2,-82.1],[352.5,-86.0],[363.1,-79.2],[374.0,-84.1],[385.3,-79.2],[396.9,-86.0],[408.8,-79.2],[421.1,-78.3],[433.8,-84.1],[446.8,-77.3],[460.3,-75.4],[474.1,-78.3],[488.4,-84.1],[503.1,-86.0],[518.3,-91.8],[528.6,-87.4],[539.1,-77.3],[550.0,-79.2],[561.0,-91.8],[572.2,-78.3],[583.6,-70.5],[592.2,-76.3],[600,-72.0]];

const psum2 = [[1.00,-71.8],[1.042,-72.8],[1.11,-73.8],[1.181,-74.8],[1.257,-75.7],[1.338,-76.7],[1.424,-78.6],[1.516,-80.1],[1.581,-82.2],[1.648,-83.0],[1.754,-82.5],[1.829,-80.6],[1.907,-78.2],[2.03,-75.7],[2.161,-75.0],[2.30,-75.4],[2.448,-76.2],[2.605,-77.2],[2.716,-79.1],[2.832,-81.1],[2.915,-82.5],[3.01,-81.8],[3.143,-82.2],[3.209,-80.1],[3.345,-77.7],[3.524,-75.2],[3.713,-73.8],[3.951,-73.1],[4.119,-74.3],[4.294,-76.7],[4.477,-79.6],[4.667,-81.6],[4.805,-83.0],[4.968,-84.2],[5.072,-82.2],[5.222,-80.6],[5.40,-78.6],[5.586,-77.0],[5.80,-76.7],[5.917,-77.2],[6.118,-80.1],[6.377,-83.0],[6.59,-85.0],[6.789,-85.9],[6.989,-85.0],[7.226,-81.1],[7.534,-79.1],[7.855,-77.7],[8.121,-79.1],[8.361,-80.6],[8.714,-82.2],[9.087,-82.2],[9.475,-81.8],[9.875,-83.0],[10.16,-85.4],[10.51,-84.3],[10.96,-83.0],[11.42,-85.0],[11.75,-86.7],[12.16,-85.4],[12.68,-84.3],[13.06,-86.9],[13.5,-90.8],[14.0,-95.1],[14.37,-95.6],[14.68,-94.2],[15.11,-88.8],[15.61,-87.4],[16.27,-88.3],[16.77,-94.2],[17.32,-90.3],[18.06,-86.9],[18.67,-85.9],[19.3,-86.4],[19.87,-87.9],[20.46,-90.3],[20.9,-92.2],[21.51,-89.8],[22.24,-87.9],[22.99,-88.8],[23.68,-90.8],[24.38,-88.8],[25.2,-87.9],[26.06,-89.8],[26.85,-90.3],[27.4,-88.8],[28.33,-90.8],[29.17,-87.9],[29.78,-92.7],[30.41,-94.7],[31.03,-88.8],[32.08,-86.9],[33.03,-90.8],[33.73,-93.2],[34.58,-85.0],[35.46,-88.8],[36.4,-91.7],[37.4,-87.9],[38.53,-89.8],[39.51,-90.3],[40.68,-86.9],[41.53,-85.9],[42.41,-90.8],[43.3,-96.1],[44.24,-87.9],[45.19,-85.9],[46.6,-88.8],[48.05,-86.9],[49.48,-87.9],[51.15,-85.9],[52.89,-88.8],[54.45,-89.8],[55.9,-87.9],[57.93,-89.8],[59.93,-88.8],[61.69,-86.9],[63.52,-90.8],[65.0,-85.9],[66.94,-89.8],[68.9,-87.4],[70.6,-92.7],[71.97,-93.7],[73.57,-85.9],[75.03,-83.0],[76.93,-88.8],[78.23,-85.0],[80.21,-91.7],[82.58,-95.1],[84.32,-85.0],[87.2,-85.9],[89.76,-87.9],[91.65,-84.0],[94.75,-82.0],[96.73,-85.9],[99.6,-90.8],[101.7,-83.0],[104.9,-81.1],[108.2,-84.0],[110.5,-85.9],[113.8,-82.0],[117.7,-85.9],[121.6,-88.8],[125.2,-90.8],[127.8,-92.7],[130.4,-86.9],[134.4,-83.0],[139.2,-80.1],[144.0,-78.2],[147.9,-79.6],[152.2,-80.1],[157.5,-84.0],[163.0,-82.0],[167.6,-80.6],[172.5,-82.0],[179.0,-80.1],[184.4,-79.6],[189.9,-80.1],[196.5,-77.2],[200.5,-73.3],[204.4,-72.3],[207.3,-75.2],[210.7,-80.1],[215.2,-85.0],[219.7,-90.3],[224.4,-82.0],[229.0,-77.2],[233.9,-83.0],[238.8,-85.0],[244.8,-79.1],[250.9,-81.6],[257.3,-79.1],[261.7,-72.8],[268.3,-75.2],[272.7,-76.2],[279.8,-78.2],[288.6,-82.0],[294.1,-89.8],[301.5,-78.2],[309.1,-75.2],[318.4,-72.3],[323.9,-71.4],[326.6,-74.3],[330.3,-89.3],[335.9,-81.1],[345.0,-76.2],[354.6,-72.8],[365.1,-68.4],[374.3,-71.4],[380.6,-74.3],[390.3,-72.3],[396.8,-69.4],[406.3,-74.3],[414.0,-85.9],[420.6,-68.4],[427.7,-66.5],[436.4,-65.0],[445.2,-68.9],[455.7,-72.3],[464.9,-69.4],[474.6,-73.8],[484.6,-76.2],[494.8,-79.1],[501.0,-83.5],[509.4,-76.2],[522.3,-75.2],[531.1,-77.7],[544.5,-85.9],[556.0,-82.0],[569.6,-86.9],[577.0,-77.2],[591.8,-78.2],[600,-83.5]];

const panels = [
    { title: panelTitles[0], data: next12, limit: limitNext, yTicks: yTicksNext },
    { title: panelTitles[1], data: next13, limit: limitNext, yTicks: yTicksNext },
    { title: panelTitles[2], data: next14, limit: limitNext, yTicks: yTicksNext },
    { title: panelTitles[3], data: next23, limit: limitNext, yTicks: yTicksNext },
    { title: panelTitles[4], data: next24, limit: limitNext, yTicks: yTicksNext },
    { title: panelTitles[5], data: next34, limit: limitNext, yTicks: yTicksNext },
    { title: panelTitles[6], data: psum1, limit: limitPsum, yTicks: yTicksPsum },
    { title: panelTitles[7], data: psum2, limit: limitPsum, yTicks: yTicksPsum }
];

// Layout
const width = 1346, height = 1749;
const plotW = 561.5, plotH = 343.6;
const colLeft = [65.5, 738.5];
const rowTop = [55.7, 498.7, 941.7, 1384.7];
const gridColor = "#14f014";
const labelFont = "'Liberation Serif','Times New Roman',serif";

const svg = d3.select("#chart").append("svg")
    .attr("width", width)
    .attr("height", height);

svg.append("rect").attr("width", width).attr("height", height).attr("fill", "#fff");

// diagonal watermark behind the charts
svg.append("text")
    .attr("transform", "translate(839,880) rotate(-49)")
    .attr("text-anchor", "middle")
    .style("font-family", "'Liberation Sans', Arial, sans-serif")
    .style("font-size", "390px")
    .style("fill", "#d6d6d6")
    .style("stroke", "#d6d6d6")
    .style("stroke-width", 6)
    .text(watermarkText);

const x = d3.scaleLog().domain([1, 600]).range([0, plotW]);
// hyphen-minus, as in the source
const fmt = d3.formatLocale({ decimal: ".", thousands: ",", grouping: [3], currency: ["", ""], minus: "-" }).format(".1f");

panels.forEach((p, i) => {
    const g = svg.append("g")
        .attr("transform", `translate(${colLeft[i % 2]},${rowTop[Math.floor(i / 2)]})`);

    const y = d3.scaleLinear()
        .domain([p.yTicks[p.yTicks.length - 1], p.yTicks[0]])
        .range([plotH, 0]);

    // outer frame
    g.append("rect")
        .attr("x", -60.2).attr("y", -24.7)
        .attr("width", plotW + 98.2).attr("height", plotH + 50)
        .attr("fill", "none")
        .attr("stroke", "#2a2a2a")
        .attr("stroke-width", 1.6);

    // titles
    g.append("text")
        .attr("x", 0).attr("y", -32.4)
        .style("font-size", "21.4px")
        .text(p.title);
    g.append("text")
        .attr("x", plotW).attr("y", -32.4)
        .attr("text-anchor", "end")
        .style("font-size", "21.4px")
        .text(unitLabel);

    // grid lines
    const vGrid = g.append("g")
        .call(d3.axisBottom(x).tickValues(xGridFreqs).tickSize(plotH).tickFormat(""));
    const hGrid = g.append("g")
        .call(d3.axisLeft(y).tickValues(p.yTicks).tickSize(-plotW).tickFormat(""));
    [vGrid, hGrid].forEach(gr => {
        gr.select(".domain").remove();
        gr.selectAll(".tick line")
            .attr("stroke", gridColor)
            .attr("stroke-width", 1)
            .attr("shape-rendering", "crispEdges");
    });

    // tick labels
    const yAxis = g.append("g")
        .call(d3.axisLeft(y).tickValues(p.yTicks).tickSize(0).tickFormat(fmt));
    yAxis.select(".domain").remove();
    yAxis.selectAll(".tick text")
        .attr("x", 0).attr("dy", null)
        .attr("transform", "translate(-0.5,0.4) scale(1.2,1)")
        .attr("text-anchor", "end")
        .attr("fill", "#000")
        .attr("stroke", "#000")
        .attr("stroke-width", 0.25)
        .style("font-size", "17.5px")
        .style("font-family", labelFont);

    const xAxis = g.append("g")
        .call(d3.axisBottom(x).tickValues(xTickFreqs).tickSize(0).tickFormat(fmt));
    xAxis.select(".domain").remove();
    xAxis.selectAll(".tick text")
        .attr("y", 0).attr("dy", null)
        .attr("transform", `translate(0,${plotH + 17.6}) scale(1.2,1)`)
        .attr("fill", "#000")
        .attr("stroke", "#000")
        .attr("stroke-width", 0.25)
        .style("font-size", "17.5px")
        .style("font-family", labelFont);

    // limit line
    const limitLine = d3.line()
        .x((d, k) => x(limitFreqs[k]))
        .y(d => y(d));
    g.append("path")
        .datum(p.limit)
        .attr("fill", "none")
        .attr("stroke", "#ff0000")
        .attr("stroke-width", 1.5)
        .attr("d", limitLine);

    // measured trace
    const traceLine = d3.line()
        .x(d => x(d[0]))
        .y(d => y(d[1]));
    g.append("path")
        .datum(p.data)
        .attr("fill", "none")
        .attr("stroke", "#0000ff")
        .attr("stroke-width", 1.2)
        .attr("stroke-linejoin", "round")
        .attr("d", traceLine);
});
</script>
</body>
</html>
